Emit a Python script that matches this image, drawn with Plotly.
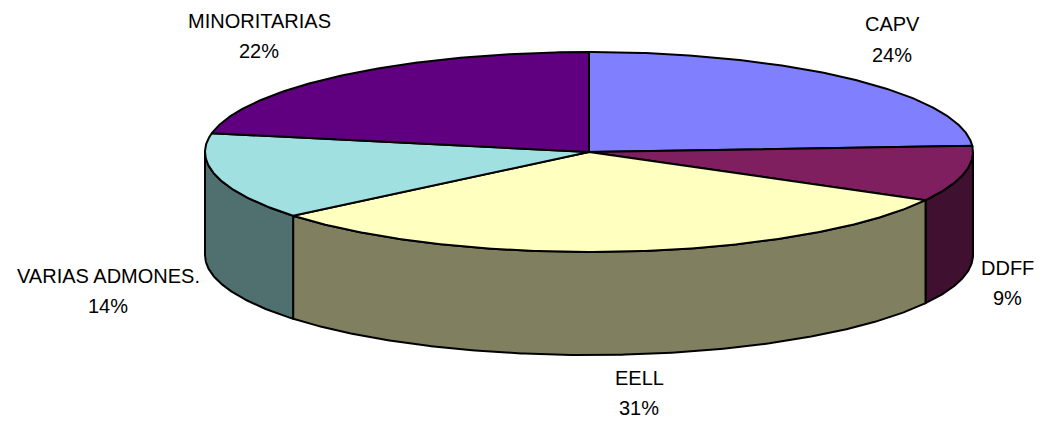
import math
import plotly.graph_objects as go

categories = ["CAPV", "DDFF", "EELL", "VARIAS ADMONES.", "MINORITARIAS"]
shares = [24, 9, 31, 14, 22]
top_colors = ["#8080FF", "#7F1F5F", "#FFFFC0", "#A0E0E0", "#600080"]
side_colors = ["#404080", "#3F1030", "#808060", "#507070", "#300040"]
label_x = [892, 1007, 639, 108, 259]
label_y1 = [24, 268, 378, 276, 21]
label_y2 = [55, 298, 408, 306, 51]

CX, CY, RX, RY, DEPTH = 589.0, 152.0, 384.0, 100.0, 103.0
W, H = 1039, 425


def pt(deg, dy=0.0):
    r = math.radians(deg)
    return CX + RX * math.sin(r), CY - RY * math.cos(r) + dy


def arc(a0, a1, dy=0.0):
    n = max(2, int(abs(a1 - a0)) * 2 + 1)
    return [pt(a0 + (a1 - a0) * i / (n - 1), dy) for i in range(n)]


total = sum(shares)
bounds = [0.0]
for s in shares:
    bounds.append(bounds[-1] + 360.0 * s / total)

fig = go.Figure()


def poly(points, color):
    fig.add_trace(go.Scatter(
        x=[p[0] for p in points] + [points[0][0]],
        y=[p[1] for p in points] + [points[0][1]],
        mode="lines", fill="toself", fillcolor=color,
        line=dict(color="#000000", width=2),
        hoverinfo="skip", showlegend=False,
    ))


# visible rim: only the front half of the disc (90..270 degrees)
for i in range(len(shares)):
    a0, a1 = max(bounds[i], 90.0), min(bounds[i + 1], 270.0)
    if a1 > a0:
        poly(arc(a0, a1) + arc(a1, a0, DEPTH), side_colors[i])

# top faces
for i in range(len(shares)):
    poly([(CX, CY)] + arc(bounds[i], bounds[i + 1]), top_colors[i])

ann = []
for c, s, x, y1, y2 in zip(categories, shares, label_x, label_y1, label_y2):
    for txt, y in ((c, y1), (f"{s}%", y2)):
        ann.append(dict(x=x, y=y, text=txt, showarrow=False, xanchor="center",
                        yanchor="middle",
                        font=dict(family="Liberation Sans", size=20, color="#000000")))

fig.update_layout(
    width=W, height=H,
    margin=dict(l=0, r=0, t=0, b=0),
    paper_bgcolor="#FFFFFF", plot_bgcolor="#FFFFFF",
    xaxis=dict(range=[0, W], visible=False, fixedrange=True),
    yaxis=dict(range=[H, 0], visible=False, fixedrange=True),
    annotations=ann,
    showlegend=False,
)
fig.write_html("out.html", config={"displayModeBar": False},
               post_script="document.body.style.margin='0';document.body.style.overflow='hidden';")
